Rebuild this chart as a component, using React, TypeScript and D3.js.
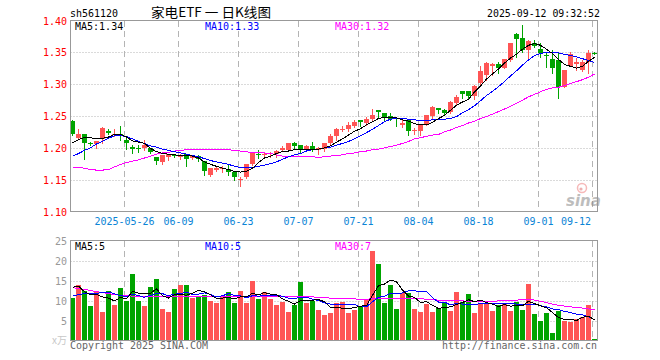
import * as d3 from "d3";

// x-axis ticks (index of the trading day where the dashed line sits)
const tickLabels = ["2025-05-26", "06-09", "06-23", "07-07", "07-21", "08-04", "08-18", "09-01", "09-12"];
const tickIdx = [9, 18, 28, 38, 48, 58, 68, 78, 87];

const priceTicks = [1.4, 1.35, 1.3, 1.25, 1.2, 1.15, 1.1];
const volTicks = [25, 20, 15, 10, 5];

// daily K (88 trading days)
const openP = [
  1.242, 1.216, 1.222, 1.208, 1.206, 1.214, 1.227, 1.221, 1.222, 1.213,
  1.202, 1.2, 1.2, 1.2, 1.186, 1.178, 1.186, 1.189, 1.186, 1.19,
  1.184, 1.187, 1.179, 1.157, 1.165, 1.167, 1.167, 1.162, 1.15, 1.154,
  1.174, 1.19, 1.189, 1.191, 1.191, 1.196, 1.196, 1.207, 1.204, 1.197,
  1.203, 1.197, 1.198, 1.207, 1.219, 1.228, 1.229, 1.235, 1.244, 1.239,
  1.246, 1.26, 1.255, 1.25, 1.247, 1.236, 1.244, 1.226, 1.227, 1.236,
  1.25, 1.263, 1.26, 1.256, 1.27, 1.289, 1.289, 1.282, 1.302, 1.315,
  1.328, 1.332, 1.326, 1.338, 1.379, 1.372, 1.354, 1.364, 1.355, 1.346,
  1.34, 1.338, 1.296, 1.329, 1.332, 1.322, 1.335, 1.349,
];
const highP = [
  1.243, 1.229, 1.222, 1.209, 1.21, 1.232, 1.229, 1.229, 1.235, 1.216,
  1.204, 1.205, 1.213, 1.2, 1.186, 1.189, 1.19, 1.19, 1.19, 1.19,
  1.188, 1.189, 1.18, 1.168, 1.171, 1.172, 1.173, 1.162, 1.154, 1.175,
  1.194, 1.197, 1.193, 1.193, 1.196, 1.203, 1.207, 1.209, 1.204, 1.205,
  1.209, 1.201, 1.208, 1.222, 1.231, 1.235, 1.24, 1.243, 1.244, 1.248,
  1.261, 1.26, 1.255, 1.254, 1.247, 1.244, 1.244, 1.231, 1.237, 1.251,
  1.265, 1.263, 1.261, 1.273, 1.283, 1.289, 1.289, 1.299, 1.328, 1.335,
  1.333, 1.335, 1.339, 1.365, 1.38, 1.393, 1.37, 1.37, 1.364, 1.35,
  1.354, 1.349, 1.323, 1.351, 1.341, 1.338, 1.353, 1.35,
];
const lowP = [
  1.22, 1.215, 1.182, 1.204, 1.199, 1.207, 1.221, 1.218, 1.213, 1.198,
  1.192, 1.193, 1.196, 1.192, 1.174, 1.175, 1.181, 1.186, 1.183, 1.172,
  1.182, 1.18, 1.157, 1.155, 1.163, 1.162, 1.158, 1.15, 1.14, 1.153,
  1.173, 1.184, 1.185, 1.186, 1.186, 1.195, 1.196, 1.2, 1.193, 1.196,
  1.195, 1.19, 1.195, 1.205, 1.213, 1.226, 1.227, 1.233, 1.234, 1.236,
  1.244, 1.249, 1.244, 1.243, 1.234, 1.233, 1.22, 1.221, 1.22, 1.236,
  1.247, 1.254, 1.253, 1.254, 1.269, 1.278, 1.277, 1.276, 1.3, 1.307,
  1.315, 1.317, 1.325, 1.337, 1.343, 1.351, 1.339, 1.359, 1.343, 1.327,
  1.317, 1.279, 1.295, 1.328, 1.322, 1.32, 1.318, 1.348,
];
const closeP = [
  1.221, 1.222, 1.207, 1.207, 1.21, 1.231, 1.223, 1.222, 1.219, 1.207,
  1.198, 1.199, 1.204, 1.193, 1.18, 1.189, 1.19, 1.188, 1.189, 1.182,
  1.188, 1.182, 1.164, 1.168, 1.168, 1.168, 1.162, 1.154, 1.151, 1.174,
  1.192, 1.188, 1.19, 1.192, 1.195, 1.2, 1.207, 1.203, 1.196, 1.203,
  1.197, 1.199, 1.207, 1.219, 1.229, 1.229, 1.236, 1.24, 1.24, 1.246,
  1.252, 1.257, 1.247, 1.246, 1.245, 1.239, 1.227, 1.228, 1.237, 1.251,
  1.264, 1.26, 1.254, 1.272, 1.28, 1.285, 1.282, 1.297, 1.321, 1.333,
  1.332, 1.325, 1.339, 1.364, 1.371, 1.354, 1.368, 1.36, 1.349, 1.345,
  1.325, 1.296, 1.323, 1.347, 1.335, 1.335, 1.349, 1.348,
];

const ma5 = [
  1.208, 1.213, 1.216, 1.216, 1.214, 1.215, 1.217, 1.221, 1.221, 1.217,
  1.211, 1.209, 1.207, 1.199, 1.194, 1.191, 1.19, 1.189, 1.188, 1.188,
  1.187, 1.184, 1.178, 1.174, 1.171, 1.168, 1.166, 1.163, 1.162, 1.163,
  1.168, 1.177, 1.184, 1.187, 1.191, 1.194, 1.195, 1.197, 1.198, 1.198,
  1.198, 1.198, 1.2, 1.203, 1.209, 1.214, 1.22, 1.226, 1.23, 1.236,
  1.241, 1.246, 1.248, 1.248, 1.247, 1.244, 1.242, 1.238, 1.236, 1.236,
  1.24, 1.246, 1.251, 1.259, 1.267, 1.272, 1.276, 1.288, 1.297, 1.308,
  1.316, 1.324, 1.333, 1.341, 1.347, 1.355, 1.361, 1.364, 1.361, 1.355,
  1.348, 1.339, 1.331, 1.328, 1.325, 1.328, 1.336, 1.342,
];
const ma10 = [
  1.187, 1.191, 1.196, 1.2, 1.206, 1.21, 1.215, 1.219, 1.219, 1.218,
  1.214, 1.21, 1.207, 1.203, 1.201, 1.198, 1.196, 1.194, 1.192, 1.19,
  1.188, 1.186, 1.183, 1.18, 1.178, 1.176, 1.174, 1.171, 1.169, 1.169,
  1.169, 1.171, 1.173, 1.175, 1.178, 1.182, 1.186, 1.189, 1.191, 1.195,
  1.197, 1.198, 1.2, 1.201, 1.204, 1.207, 1.21, 1.214, 1.219, 1.224,
  1.229, 1.235, 1.241, 1.245, 1.246, 1.246, 1.245, 1.244, 1.243, 1.243,
  1.244, 1.244, 1.245, 1.246, 1.249, 1.255, 1.26, 1.266, 1.274, 1.282,
  1.289, 1.296, 1.304, 1.313, 1.321, 1.33, 1.338, 1.345, 1.348, 1.35,
  1.35, 1.349, 1.347, 1.345, 1.343, 1.34, 1.337, 1.334,
];
const ma30 = [
  1.169, 1.169, 1.168, 1.166, 1.165, 1.165, 1.166, 1.17, 1.174, 1.177,
  1.179, 1.181, 1.184, 1.187, 1.19, 1.192, 1.193, 1.195, 1.196, 1.197,
  1.197, 1.197, 1.197, 1.197, 1.197, 1.197, 1.197, 1.196, 1.195, 1.194,
  1.192, 1.192, 1.192, 1.191, 1.189, 1.187, 1.186, 1.186, 1.186, 1.186,
  1.186, 1.185, 1.186, 1.187, 1.188, 1.189, 1.191, 1.192, 1.194, 1.195,
  1.197, 1.198, 1.2, 1.202, 1.204, 1.207, 1.21, 1.214, 1.216, 1.218,
  1.22, 1.221, 1.225, 1.228, 1.232, 1.235, 1.239, 1.242, 1.246, 1.249,
  1.253, 1.257, 1.261, 1.265, 1.27, 1.275, 1.28, 1.284, 1.288, 1.292,
  1.294, 1.295, 1.298, 1.301, 1.304, 1.307, 1.311, 1.316,
];

// volume, 万手
const volume = [
  10.6, 14.0, 12.3, 8.6, 12.1, 7.25, 12.5, 9.0, 13.25, 10.0,
  16.75, 10.0, 8.75, 13.5, 15.5, 8.0, 7.25, 13.0, 14.0, 14.0,
  10.6, 11.1, 11.5, 10.0, 9.5, 10.8, 12.25, 9.5, 12.5, 9.5,
  15.0, 10.5, 12.25, 10.5, 9.0, 9.75, 7.25, 9.0, 14.75, 9.5,
  10.0, 7.75, 6.5, 7.0, 9.5, 9.75, 7.0, 7.75, 8.75, 10.25,
  22.5, 19.25, 9.5, 14.0, 8.0, 12.0, 12.0, 8.0, 7.25, 9.25,
  7.25, 8.25, 9.5, 7.5, 12.25, 9.75, 11.75, 7.0, 9.5, 9.5,
  7.5, 9.0, 9.5, 7.5, 9.75, 7.75, 14.25, 6.75, 5.0, 7.0,
  2.0, 7.5, 5.0, 4.75, 5.5, 6.0, 9.0, 0.25,
];
const volMa5 = [
  13.3, 13.6, 12.2, 11.4, 11.5, 10.9, 10.6, 9.9, 10.8, 10.4,
  12.3, 11.8, 11.8, 11.8, 12.9, 11.2, 10.6, 11.5, 11.6, 11.3,
  11.8, 12.5, 12.2, 11.4, 10.5, 10.6, 10.8, 10.4, 10.9, 10.9,
  11.8, 11.4, 12.0, 11.6, 11.5, 10.4, 9.8, 9.1, 10.0, 10.1,
  10.1, 10.2, 9.7, 8.2, 8.2, 8.1, 8.0, 8.2, 8.6, 8.7,
  11.3, 13.7, 14.1, 15.1, 14.7, 12.6, 11.1, 10.8, 9.5, 9.7,
  8.8, 8.0, 8.3, 8.4, 9.0, 9.5, 10.2, 9.7, 10.1, 9.5,
  9.1, 8.5, 9.0, 8.6, 8.7, 8.7, 9.8, 9.2, 8.7, 8.2,
  7.0, 5.7, 5.3, 5.3, 5.0, 5.8, 6.1, 5.1,
];
const volMa10 = [
  11.1, 11.5, 11.7, 11.7, 11.8, 12.0, 12.1, 11.7, 11.2, 11.0,
  11.6, 11.2, 10.8, 11.3, 11.7, 11.7, 11.2, 11.6, 11.7, 12.1,
  11.5, 11.6, 11.9, 11.5, 10.9, 11.2, 11.7, 11.3, 11.2, 10.7,
  11.2, 11.1, 11.2, 11.2, 11.2, 11.1, 10.6, 10.5, 10.8, 10.8,
  10.3, 10.0, 9.4, 9.1, 9.1, 9.1, 9.1, 9.0, 8.4, 8.4,
  9.7, 10.8, 11.1, 11.8, 11.7, 11.9, 12.4, 12.4, 12.3, 12.2,
  10.7, 9.6, 9.6, 8.9, 9.3, 9.1, 9.1, 9.0, 9.2, 9.2,
  9.3, 9.3, 9.3, 9.3, 9.1, 8.9, 9.1, 9.1, 8.7, 8.4,
  7.9, 7.7, 7.3, 7.0, 6.6, 6.4, 5.9, 5.2,
];
const volMa30 = [
  13.2, 13.0, 12.8, 12.5, 12.2, 12.0, 11.7, 11.5, 11.3, 11.2,
  11.1, 11.1, 11.1, 11.1, 11.1, 11.1, 11.1, 11.1, 11.1, 11.1,
  11.1, 11.1, 11.1, 11.1, 11.1, 11.1, 11.1, 11.1, 11.1, 11.1,
  11.1, 11.1, 11.1, 11.1, 11.0, 11.0, 11.0, 11.0, 11.0, 11.0,
  10.9, 10.8, 10.7, 10.6, 10.5, 10.5, 10.4, 10.4, 10.3, 10.3,
  10.5, 10.6, 10.6, 10.6, 10.6, 10.6, 10.6, 10.6, 10.5, 10.3,
  10.2, 10.1, 10.0, 10.0, 10.0, 9.9, 9.8, 9.75, 9.75, 9.75,
  9.8, 9.9, 10.0, 10.0, 10.1, 10.2, 10.25, 10.1, 9.8, 9.5,
  9.1, 8.8, 8.6, 8.4, 8.3, 8.1, 7.9, 7.7,
];

const mono = "'DejaVu Sans Mono', monospace";
const RED = "#ff5555";
const GREEN = "#00a400";
const GRID = "#b4b4b4";
const BORDER = "#999";

export default function App() {
  const x = d3.scaleLinear().domain([0, 88]).range([70, 598]);
  const yP = d3.scaleLinear().domain([1.1, 1.4]).range([211.5, 20.5]);
  const yV = d3.scaleLinear().domain([0, 25]).range([340.5, 240.5]);
  const cx = (i: number) => x(i) + 2.5;

  const mk = (scale: d3.ScaleLinear<number, number>) =>
    d3.line<number>().x((_, i) => cx(i)).y((d) => scale(d));
  const priceLine = mk(yP);
  const volLine = mk(yV);

  const left = 70.5, right = 597.5;

  return (
    <svg width={660} height={360} style={{ position: "absolute", left: 0, top: 0, background: "#fff" }}>
      {/* header */}
      <text x={70} y={16.5} fontFamily={mono} fontSize={10} textLength={48} lengthAdjust="spacingAndGlyphs">sh561120</text>
      <text x={151} y={17} fontFamily="'Noto Sans CJK SC', sans-serif" fontSize={13} textLength={120} lengthAdjust="spacingAndGlyphs">家电ETF 一 日K线图</text>
      <text x={600} y={16.5} fontFamily={mono} fontSize={10} textAnchor="end" textLength={113} lengthAdjust="spacingAndGlyphs">2025-09-12 09:32:52</text>

      {/* price panel grid */}
      {priceTicks.slice(1, -1).map((p) => (
        <line key={p} x1={left} x2={right} y1={Math.round(yP(p)) + 0.5} y2={Math.round(yP(p)) + 0.5} stroke={GRID} strokeDasharray="1,2" />
      ))}
      {tickIdx.map((k) => (
        <g key={k}>
          <line x1={x(k) + 0.5} x2={x(k) + 0.5} y1={21} y2={211} stroke={GRID} strokeDasharray="6,4" />
          <line x1={x(k) + 0.5} x2={x(k) + 0.5} y1={241} y2={340} stroke={GRID} strokeDasharray="6,4" />
        </g>
      ))}
      {priceTicks.map((p) => (
        <text key={p} x={67} y={Math.round(yP(p)) + 4} fontFamily={mono} fontSize={10} fill="#f00" textAnchor="end">
          {p.toFixed(2)}
        </text>
      ))}

      {/* candles */}
      <g shapeRendering="crispEdges">
        {openP.map((o, i) => {
          const c = closeP[i];
          const col = c >= o ? RED : GREEN;
          const top = Math.round(yP(Math.max(o, c)));
          const bot = Math.round(yP(Math.min(o, c)));
          return (
            <g key={i}>
              <line x1={cx(i)} x2={cx(i)} y1={Math.round(yP(highP[i]))} y2={Math.round(yP(lowP[i])) + 1} stroke={col} />
              <rect x={x(i)} y={top} width={5} height={Math.max(1, bot - top)} fill={col} />
            </g>
          );
        })}
      </g>

      {/* price MAs */}
      <g fill="none" strokeWidth={1} shapeRendering="crispEdges">
        <path d={priceLine(ma30) ?? ""} stroke="#ff00ff" />
        <path d={priceLine(ma10) ?? ""} stroke="#0000ff" />
        <path d={priceLine(ma5) ?? ""} stroke="#000" />
      </g>

      <text x={75} y={30} fontFamily={mono} fontSize={10} fill="#000">MA5:{ma5[ma5.length - 1].toFixed(2)}</text>
      <text x={205} y={30} fontFamily={mono} fontSize={10} fill="#0000ff">MA10:{ma10[ma10.length - 1].toFixed(2)}</text>
      <text x={335} y={30} fontFamily={mono} fontSize={10} fill="#ff00ff">MA30:{ma30[ma30.length - 1].toFixed(2)}</text>

      {/* sina watermark */}
      <g opacity={0.55}>
        <circle cx={582} cy={188} r={4.5} fill="none" stroke="#f08080" strokeWidth={1.5} />
        <circle cx={581} cy={189} r={1.6} fill="#e07070" />
        <text x={566} y={206} fontFamily="'DejaVu Sans', sans-serif" fontSize={15} fontWeight="bold" fontStyle="italic" fill="#888">sina</text>
      </g>

      <rect x={left} y={20.5} width={right - left} height={191} fill="none" stroke={BORDER} />

      {/* dates */}
      {tickIdx.map((k, j) => {
        const last = j === tickIdx.length - 1;
        return (
          <text key={k} x={last ? 591 : x(k) + 0.5} y={225} fontFamily={mono} fontSize={10} fill="#0a84d6" textAnchor={last ? "end" : "middle"}>
            {tickLabels[j]}
          </text>
        );
      })}

      {/* volume panel */}
      {volTicks.slice(1).map((v) => (
        <line key={v} x1={left} x2={right} y1={Math.round(yV(v)) + 0.5} y2={Math.round(yV(v)) + 0.5} stroke={GRID} strokeDasharray="1,2" />
      ))}
      {volTicks.map((v) => (
        <text key={v} x={67} y={Math.round(yV(v)) + 4} fontFamily={mono} fontSize={10} fill="#999" textAnchor="end">{v}</text>
      ))}
      <text x={67} y={344} fontFamily="'Noto Sans CJK SC', sans-serif" fontSize={10} fill="#c8c8c8" textAnchor="end">x万</text>

      <g shapeRendering="crispEdges">
        {volume.map((v, i) => {
          const top = Math.round(yV(v));
          return (
            <rect key={i} x={x(i)} y={top} width={5} height={Math.max(1, 340 - top)} fill={closeP[i] >= openP[i] ? RED : GREEN} />
          );
        })}
      </g>
      <g fill="none" strokeWidth={1} shapeRendering="crispEdges">
        <path d={volLine(volMa30) ?? ""} stroke="#ff00ff" />
        <path d={volLine(volMa10) ?? ""} stroke="#0000ff" />
        <path d={volLine(volMa5) ?? ""} stroke="#000" />
      </g>

      <text x={75} y={250} fontFamily={mono} fontSize={10} fill="#000">MA5:{Math.round(volMa5[87])}</text>
      <text x={205} y={250} fontFamily={mono} fontSize={10} fill="#0000ff">MA10:{Math.round(volMa10[87])}</text>
      <text x={335} y={250} fontFamily={mono} fontSize={10} fill="#ff00ff">MA30:{Math.floor(volMa30[87])}</text>

      <rect x={left} y={240.5} width={right - left} height={100} fill="none" stroke={BORDER} />

      {/* footer */}
      <text x={70} y={349} fontFamily={mono} fontSize={10} fill="#666" textLength={138} lengthAdjust="spacingAndGlyphs">Copyright 2025 SINA.COM</text>
      <text x={597} y={349} fontFamily={mono} fontSize={10} fill="#666" textAnchor="end" textLength={155} lengthAdjust="spacingAndGlyphs">http://finance.sina.com.cn</text>
    </svg>
  );
}
